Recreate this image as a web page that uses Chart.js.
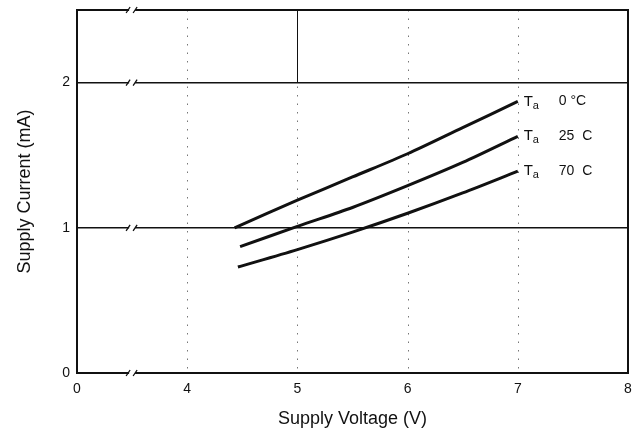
<!DOCTYPE html>
<html>
<head>
<meta charset="utf-8">
<script src="https://cdn.jsdelivr.net/npm/chart.js@4"></script>
<style>
  html, body { margin: 0; padding: 0; background: #fff; }
  canvas { display: block; }
</style>
</head>
<body>
<canvas id="c" width="643" height="434"></canvas>
<script>
// ---- data ----
const seriesNames = ['0 °C', '25  C', '70  C'];
const voltage0C  = [4.43, 5.0, 5.5, 6.0, 6.5, 7.0];
const current0C  = [1.00, 1.19, 1.35, 1.51, 1.69, 1.87];
const voltage25C = [4.48, 5.0, 5.5, 6.0, 6.5, 7.0];
const current25C = [0.87, 1.01, 1.14, 1.29, 1.45, 1.63];
const voltage70C = [4.46, 5.0, 5.5, 6.0, 6.5, 7.0];
const current70C = [0.73, 0.85, 0.97, 1.10, 1.24, 1.39];

const xTickValues = [3, 4, 5, 6, 7, 8];
const xTickLabels = ['0', '4', '5', '6', '7', '8'];
const yTickValues = [0, 1, 2];
const yTickLabels = ['0', '1', '2'];
const xGridValues = [4, 5, 6, 7];
const yGridValues = [1, 2];

const FONT = "'Liberation Sans', Arial, Helvetica, sans-serif";
const INK = '#111';

function pts(xs, ys) { return xs.map((x, i) => ({ x: x, y: ys[i] })); }

const decor = {
  id: 'decor',
  beforeDatasetsDraw(chart) {
    const { ctx, chartArea: a, scales: { x, y } } = chart;
    ctx.save();
    ctx.strokeStyle = '#777';
    ctx.lineWidth = 1;
    ctx.setLineDash([1.5, 7]);
    xGridValues.forEach(v => {
      const px = Math.round(x.getPixelForValue(v)) + 0.5;
      ctx.beginPath(); ctx.moveTo(px, a.top); ctx.lineTo(px, a.bottom); ctx.stroke();
    });
    ctx.setLineDash([]);
    ctx.strokeStyle = INK;
    const p5 = Math.round(x.getPixelForValue(5)) + 0.5;
    ctx.beginPath(); ctx.moveTo(p5, a.top); ctx.lineTo(p5, y.getPixelForValue(2)); ctx.stroke();
    ctx.restore();
  },
  afterDraw(chart) {
    const { ctx, chartArea: a, scales: { x, y } } = chart;
    ctx.save();
    ctx.strokeStyle = INK;
    ctx.lineWidth = 2;
    ctx.beginPath();
    ctx.moveTo(a.left - 1, a.top);
    ctx.lineTo(a.right, a.top);
    ctx.lineTo(a.right, a.bottom + 1);
    ctx.stroke();
    const bx = x.getPixelForValue(3.5);
    const ys = [a.top, y.getPixelForValue(2), y.getPixelForValue(1), a.bottom];
    ys.forEach(py => {
      ctx.fillStyle = '#fff';
      ctx.fillRect(bx - 3, py - 2, 6, 4);
      ctx.strokeStyle = INK;
      ctx.lineWidth = 1.3;
      ctx.beginPath();
      ctx.moveTo(bx - 6, py + 3); ctx.lineTo(bx - 2, py - 3);
      ctx.moveTo(bx + 1, py + 3); ctx.lineTo(bx + 5, py - 3);
      ctx.stroke();
    });
    chart.data.datasets.forEach((ds, i) => {
      const meta = chart.getDatasetMeta(i);
      const last = meta.data[meta.data.length - 1];
      const lx = last.x + 6, ly = last.y;
      ctx.fillStyle = INK;
      ctx.textBaseline = 'middle';
      ctx.textAlign = 'left';
      ctx.font = '15px ' + FONT;
      ctx.fillText('T', lx, ly);
      ctx.font = '11px ' + FONT;
      ctx.fillText('a', lx + 9, ly + 4);
      ctx.font = '14px ' + FONT;
      ctx.fillText(ds.label, lx + 35, ly);
    });
    ctx.restore();
  }
};

const lineStyle = {
  borderColor: INK,
  borderWidth: 3,
  pointRadius: 0,
  fill: false,
  tension: 0.3,
  borderCapStyle: 'butt'
};

new Chart(document.getElementById('c'), {
  type: 'line',
  data: {
    datasets: [
      Object.assign({ label: seriesNames[0], data: pts(voltage0C, current0C) }, lineStyle),
      Object.assign({ label: seriesNames[1], data: pts(voltage25C, current25C) }, lineStyle),
      Object.assign({ label: seriesNames[2], data: pts(voltage70C, current70C) }, lineStyle)
    ]
  },
  options: {
    responsive: false,
    animation: false,
    layout: { padding: { left: 0, right: 15, top: 10, bottom: 0 } },
    plugins: { legend: { display: false }, tooltip: { enabled: false } },
    scales: {
      x: {
        type: 'linear',
        min: 3, max: 8,
        afterBuildTicks: ax => { ax.ticks = xTickValues.map(v => ({ value: v })); },
        afterFit: ax => { ax.height = 61; ax.paddingLeft = 0; ax.paddingRight = 0; },
        ticks: {
          color: INK,
          font: { family: FONT, size: 14 },
          padding: 8,
          maxRotation: 0,
          callback: (v) => { const i = xTickValues.indexOf(v); return i >= 0 ? xTickLabels[i] : ''; }
        },
        grid: { display: false, drawTicks: false },
        border: { display: true, color: INK, width: 2 },
        title: {
          display: true, text: 'Supply Voltage (V)', color: INK,
          font: { family: FONT, size: 18 }, padding: { top: 0, bottom: 4 }
        }
      },
      y: {
        type: 'linear',
        min: 0, max: 2.5,
        afterBuildTicks: ax => { ax.ticks = yTickValues.map(v => ({ value: v })); },
        afterFit: ax => { ax.width = 77; ax.paddingTop = 0; ax.paddingBottom = 0; },
        ticks: {
          color: INK,
          font: { family: FONT, size: 14 },
          padding: 7,
          callback: (v) => { const i = yTickValues.indexOf(v); return i >= 0 ? yTickLabels[i] : ''; }
        },
        grid: {
          drawTicks: false,
          lineWidth: 1.5,
          color: c => (c.tick && yGridValues.indexOf(c.tick.value) >= 0) ? INK : 'rgba(0,0,0,0)'
        },
        border: { display: true, color: INK, width: 2 },
        title: {
          display: true, text: 'Supply Current (mA)', color: INK,
          font: { family: FONT, size: 18 }, padding: { top: 14, bottom: 0 }
        }
      }
    }
  },
  plugins: [decor]
});
</script>
</body>
</html>
